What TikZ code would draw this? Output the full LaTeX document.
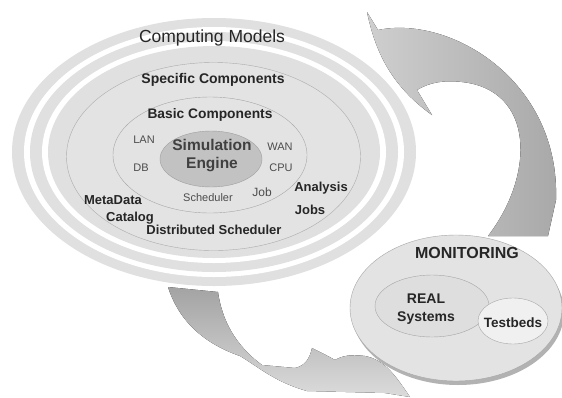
\documentclass[tikz,border=0pt]{standalone}
\usepackage{fontspec}
\setmainfont{Liberation Sans}

\begin{document}
\begin{tikzpicture}[x=1pt,y=-1pt,
    ring/.style={fill=gray!24},
    gap/.style={fill=white},
    lbl/.style={inner sep=0pt,align=center,text=black!85},
    bold/.style={lbl,font=\fontsize{13}{16}\selectfont\bfseries},
    small/.style={lbl,font=\fontsize{11}{13}\selectfont,text=black!70}]
    \fill[white] (0,0) rectangle (562,397);
    \useasboundingbox (0,0) rectangle (562,397);
    \fill[top color=gray!72,bottom color=gray!28] (168,287) .. controls (178,318) and (200,342) .. (240,356) .. controls (260,368) and (275,382) .. (307,391) -- (385,393) -- (410,397) .. controls (395,375) and (385,360) .. (365,356) .. controls (350,354) and (342,356) .. (335,360) .. controls (328,356) and (320,352) .. (312,348) .. controls (310,358) and (305,366) .. (295,368) -- (262,365) .. controls (235,345) and (222,320) .. (218,292) -- cycle;
    \fill[left color=gray!38,right color=gray!68] (367,12) .. controls (375,50) and (390,85) .. (432,115) -- (417,90) .. controls (430,82) and (445,80) .. (462,82) .. controls (535,90) and (535,175) .. (488,236) -- (548,236) -- (556,200) .. controls (560,80) and (450,15) .. (378,30) -- cycle;
    \fill[ring] (214,152) ellipse [x radius=202,y radius=134];
    \fill[gap] (214,152) ellipse [x radius=190,y radius=125];
    \fill[ring] (214,152) ellipse [x radius=184,y radius=120];
    \fill[gap] (214,152) ellipse [x radius=172,y radius=111];
    \fill[ring] (214,152) ellipse [x radius=166,y radius=106];
    \filldraw[fill=gray!22,draw=gray!65,thin] (213.5,156.5) ellipse [x radius=147,y radius=94];
    \filldraw[fill=gray!22,draw=gray!70,thin] (210,155) ellipse [x radius=97,y radius=58];
    \filldraw[fill=gray!48,draw=gray!75,thin] (211,159) ellipse [x radius=51,y radius=28];
    \fill[gray!60] (458,312) ellipse [x radius=106,y radius=73];
    \filldraw[fill=gray!22,draw=gray!70,thin] (456,308) ellipse [x radius=106,y radius=73];
    \filldraw[fill=gray!26,draw=gray!70,thin] (432,306) ellipse [x radius=57,y radius=31];
    \filldraw[fill=gray!12,draw=gray!70,thin] (513,321) ellipse [x radius=35,y radius=23];
    \node[lbl,font=\fontsize{17.5}{20}\selectfont] (models) at (212,38) {Computing Models};
    \node[bold,font=\fontsize{14}{16}\selectfont\bfseries] (specific) at (213,80) {Specific Components};
    \node[bold,font=\fontsize{13.8}{16}\selectfont\bfseries] (basic) at (210,115) {Basic Components};
    \node[small] (lan) at (144,140) {LAN};
    \node[small] (db) at (141,168) {DB};
    \node[small] (wan) at (280,147) {WAN};
    \node[small] (cpu) at (281,168) {CPU};
    \node[bold,font=\fontsize{15.5}{18}\selectfont\bfseries,text=black!75] (engine) at (212,156) {Simulation\\Engine};
    \node[small,font=\fontsize{12}{14}\selectfont] (job) at (262,192) {Job};
    \node[small] (scheduler) at (208,198) {Scheduler};
    \node[bold] (metadata) at (113,200) {MetaData};
    \node[bold] (catalog) at (130,218) {Catalog};
    \node[bold] (distsched) at (214,230) {Distributed Scheduler};
    \node[bold] (analysis) at (321,188) {Analysis};
    \node[bold] (jobs) at (310,210) {Jobs};
    \node[bold,font=\fontsize{16}{18}\selectfont\bfseries] (monitoring) at (467,253) {MONITORING};
    \node[bold,font=\fontsize{14}{18}\selectfont\bfseries] (real) at (426,309) {REAL\\Systems};
    \node[bold,font=\fontsize{13.5}{16}\selectfont\bfseries] (testbeds) at (513,323) {Testbeds};
\end{tikzpicture}
\end{document}
